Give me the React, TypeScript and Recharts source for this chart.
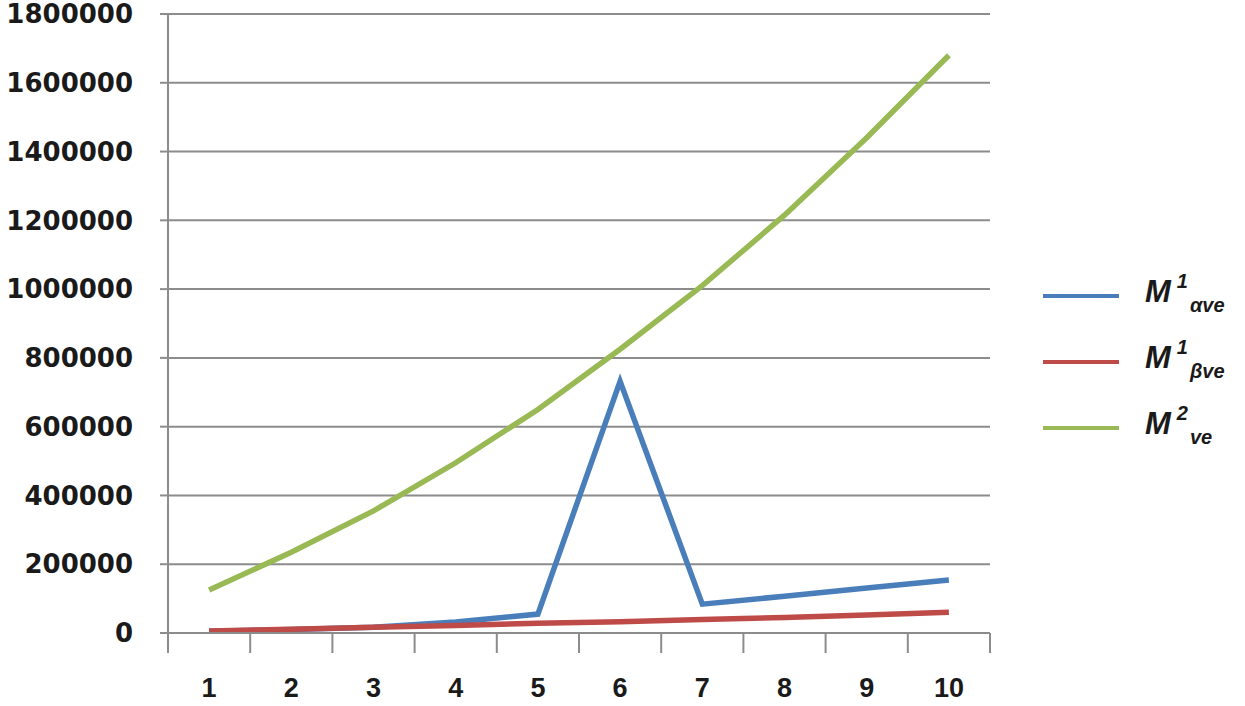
import React from 'react'
import { LineChart, Line, XAxis, YAxis, CartesianGrid } from 'recharts'

const categories = ['1', '2', '3', '4', '5', '6', '7', '8', '9', '10']
const alphaValues = [5000, 10000, 17000, 32000, 55000, 732000, 84000, 107000, 131000, 154000]
const betaValues = [6000, 11000, 17000, 22000, 28000, 33000, 39000, 45000, 52000, 60000]
const m2Values = [125000, 235000, 355000, 495000, 650000, 825000, 1010000, 1215000, 1440000, 1680000]
const yTicks = [0, 200000, 400000, 600000, 800000, 1000000, 1200000, 1400000, 1600000, 1800000]

const series = [
  { key: 'alpha', color: '#4a7ebb', sub: 'αve', sup: '1' },
  { key: 'beta', color: '#be4b48', sub: 'βve', sup: '1' },
  { key: 'm2', color: '#98b954', sub: 've', sup: '2' }
]

const data = categories.map((c, i) => ({
  name: c,
  alpha: alphaValues[i],
  beta: betaValues[i],
  m2: m2Values[i]
}))

const BAND = 822 / categories.length

function XTick(props: any) {
  const { x, y, payload, index } = props
  const last = index === categories.length - 1
  return (
    <g>
      <line x1={x - BAND / 2} x2={x - BAND / 2} y1={y - 8} y2={y + 12} stroke="#8c8c8c" strokeWidth={2} />
      {last && <line x1={x + BAND / 2} x2={x + BAND / 2} y1={y - 8} y2={y + 12} stroke="#8c8c8c" strokeWidth={2} />}
      <text x={x} y={y + 56} textAnchor="middle"
        fontFamily="Liberation Sans" fontWeight="bold" fontSize={27} fill="#1a1a1a">
        {payload.value}
      </text>
    </g>
  )
}

function LegendBox() {
  return (
    <div style={{ position: 'absolute', left: 1041, top: 263, width: 204, fontFamily: 'Liberation Sans', color: '#1a1a1a' }}>
      {series.map((s) => (
        <div key={s.key} style={{ display: 'flex', alignItems: 'center', height: 66 }}>
          <svg width={80} height={10}>
            <line x1={2} x2={78} y1={5} y2={5} stroke={s.color} strokeWidth={4} />
          </svg>
          <span style={{ marginLeft: 24, fontStyle: 'italic', fontWeight: 'bold', fontSize: 31, position: 'relative', top: -4, whiteSpace: 'nowrap' }}>
            M
            <span style={{ fontSize: 20, position: 'relative', top: -14, marginLeft: 6 }}>{s.sup}</span>
            <span style={{ fontSize: 20, position: 'relative', top: 10, marginLeft: 2 }}>{s.sub}</span>
          </span>
        </div>
      ))}
    </div>
  )
}

export default function App() {
  return (
    <div style={{ position: 'absolute', left: 0, top: 0, width: 1245, height: 706, background: '#fff' }}>
      <LineChart width={1245} height={706} data={data} margin={{ top: 14, right: 255, left: 8, bottom: 1 }}>
        <CartesianGrid vertical={false} stroke="#8c8c8c" strokeWidth={2} />
        <XAxis dataKey="name" scale="band" tickLine={false} height={72}
          axisLine={{ stroke: '#8c8c8c', strokeWidth: 2 }} tick={<XTick />} interval={0} />
        <YAxis width={160} domain={[0, 1800000]} ticks={yTicks} interval={0} tickSize={8} tickMargin={27}
          axisLine={{ stroke: '#8c8c8c', strokeWidth: 2 }} tickLine={{ stroke: '#8c8c8c', strokeWidth: 2 }}
          tick={{ fontFamily: 'DejaVu Sans', fontWeight: 'bold', fontSize: 26, fill: '#1a1a1a' }} />
        {series.map((s) => (
          <Line key={s.key} dataKey={s.key} stroke={s.color} strokeWidth={5.5} dot={false}
            type="linear" isAnimationActive={false} strokeLinejoin="miter" />
        ))}
      </LineChart>
      <LegendBox />
    </div>
  )
}
